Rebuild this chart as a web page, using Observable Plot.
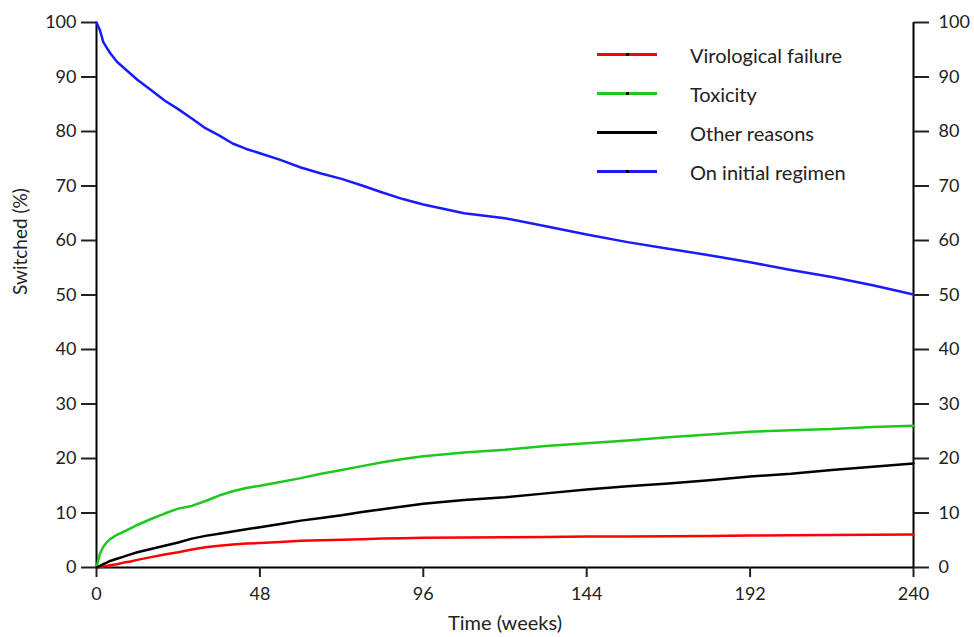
<!DOCTYPE html>
<html>
<head>
<meta charset="utf-8">
<script src="https://cdn.jsdelivr.net/npm/d3@7"></script>
<script src="https://cdn.jsdelivr.net/npm/@observablehq/plot@0.6"></script>
<style>
  body { margin: 0; background: #fff; font-family: Lato, "Open Sans", sans-serif; }
  #wrap { position: relative; width: 974px; height: 637px; }
  #legend { position: absolute; left: 597px; top: 35px; font-size: 20px; color: #222; }
  .row { display: flex; align-items: center; height: 39px; }
  .sw { position: relative; width: 60px; height: 3px; margin-right: 33px; }
  .sw::after { content: ""; position: absolute; left: 29px; top: 0; width: 3px; height: 3px; background: #000; }
</style>
</head>
<body>
<div id="wrap"><div id="legend"></div></div>
<script>
const weeks = [0,1,2,3,4,6,8,10,12,16,20,24,28,32,36,40,44,48,54,60,66,72,78,84,90,96,108,120,132,144,156,168,180,192,204,216,228,240];
const onInitial = [100,98.6,96.4,95.4,94.4,92.8,91.7,90.6,89.5,87.6,85.7,84.1,82.4,80.6,79.3,77.8,76.8,76.0,74.8,73.4,72.3,71.3,70.1,68.8,67.6,66.6,65.0,64.1,62.6,61.1,59.7,58.5,57.3,56.0,54.6,53.3,51.8,50.1];
const toxicity = [0,2.5,3.8,4.6,5.2,6.0,6.6,7.2,7.8,8.9,9.9,10.8,11.3,12.2,13.2,14.0,14.6,15.0,15.7,16.4,17.2,17.9,18.6,19.3,19.9,20.4,21.1,21.6,22.3,22.8,23.3,23.9,24.4,24.9,25.2,25.4,25.8,26.0];
const otherReasons = [0,0.3,0.6,0.9,1.2,1.6,2.0,2.4,2.8,3.4,4.0,4.6,5.3,5.8,6.2,6.6,7.0,7.4,8.0,8.6,9.1,9.6,10.2,10.7,11.2,11.7,12.4,12.9,13.6,14.3,14.9,15.4,16.0,16.7,17.2,17.9,18.5,19.1];
const virologicalFailure = [0,0.1,0.2,0.3,0.4,0.6,0.9,1.1,1.4,1.9,2.4,2.8,3.3,3.7,4.0,4.2,4.4,4.5,4.7,4.9,5.0,5.1,5.2,5.3,5.35,5.45,5.5,5.55,5.6,5.7,5.7,5.75,5.8,5.85,5.9,5.95,6.0,6.05];
const seriesNames = ["Virological failure","Toxicity","Other reasons","On initial regimen"];
const seriesColors = ["#ff0000","#1ec81e","#000000","#1a1aff"];
const seriesValues = [virologicalFailure, toxicity, otherReasons, onInitial];
const xTicks = [0,48,96,144,192,240];
const yTicks = [0,10,20,30,40,50,60,70,80,90,100];

const rows = [];
seriesNames.forEach((name, i) => {
  weeks.forEach((w, j) => rows.push({series: name, week: w, value: seriesValues[i][j]}));
});

const chart = Plot.plot({
  width: 974, height: 637,
  marginLeft: 96, marginRight: 61, marginTop: 22, marginBottom: 70,
  style: {fontFamily: "Lato, 'Open Sans', sans-serif", fontSize: "18px", color: "#222", background: "#fff"},
  x: {domain: [0, 240]},
  y: {domain: [0, 100]},
  color: {domain: seriesNames, range: seriesColors},
  marks: [
    Plot.ruleY([0], {stroke: "#000", strokeWidth: 2}),
    Plot.ruleX([0, 240], {stroke: "#000", strokeWidth: 2}),
    Plot.axisX({ticks: xTicks, tickSize: 10, tickPadding: 10, strokeWidth: 2, label: null, fontSize: 18, fill: "#222"}),
    Plot.axisY({anchor: "left", ticks: yTicks, tickSize: 15, tickPadding: 5, strokeWidth: 2, label: null, fontSize: 18, fill: "#222"}),
    Plot.axisY({anchor: "right", ticks: yTicks, tickSize: 15, tickPadding: 10, strokeWidth: 2, label: null, fontSize: 18, fill: "#222"}),
    Plot.line(rows, {x: "week", y: "value", z: "series", stroke: "series", strokeWidth: 2.5}),
    Plot.text(["Switched (%)"], {frameAnchor: "left", dx: -76, rotate: -90, fontSize: 19, fill: "#222"}),
    Plot.text(["Time (weeks)"], {frameAnchor: "bottom", dy: 62, fontSize: 20, fill: "#222"})
  ]
});
document.getElementById("wrap").prepend(chart);

const legend = document.getElementById("legend");
seriesNames.forEach((name, i) => {
  const r = document.createElement("div"); r.className = "row";
  const s = document.createElement("div"); s.className = "sw"; s.style.background = seriesColors[i];
  const t = document.createElement("span"); t.textContent = name;
  r.appendChild(s); r.appendChild(t); legend.appendChild(r);
});
</script>
</body>
</html>
